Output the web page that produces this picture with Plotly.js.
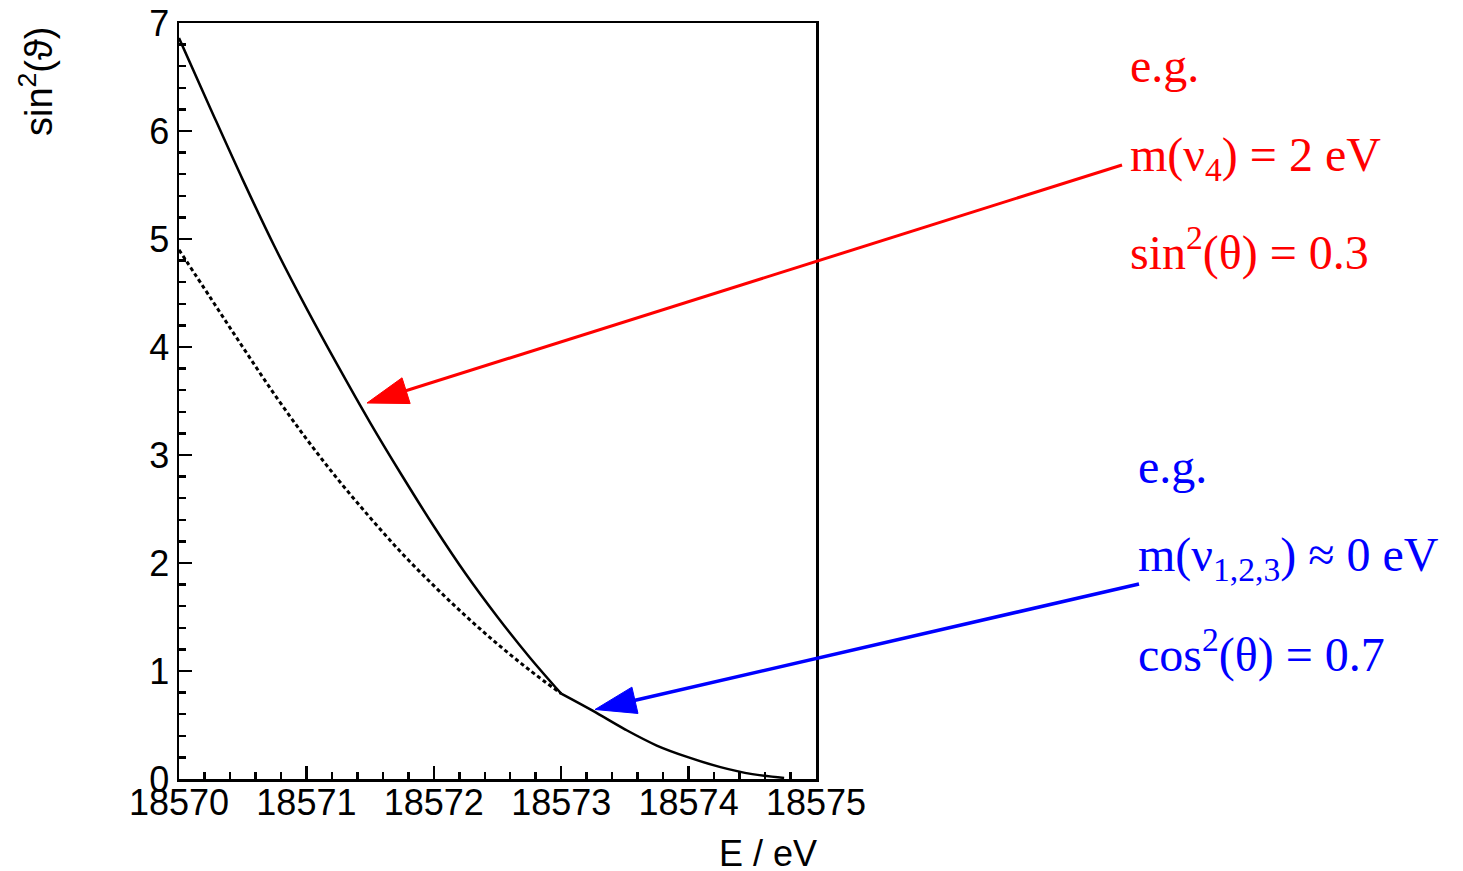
<!DOCTYPE html>
<html>
<head>
<meta charset="utf-8">
<script src="https://cdn.plot.ly/plotly-3.0.1.min.js"></script>
<style>
html,body{margin:0;padding:0;background:#fff;}
#chart{width:1463px;height:871px;}
</style>
</head>
<body>
<div id="chart"></div>
<script>
// ---- data ----
// solid curve (sum spectrum), branch below the kink at 18573 eV
const energySolidLow = [18570.0, 18570.25, 18570.5, 18570.75, 18571.0, 18571.25, 18571.5, 18571.75,
  18572.0, 18572.25, 18572.5, 18572.75, 18573.0];
const spectrumSolidLow = [6.86, 6.20, 5.55, 4.93, 4.36, 3.82, 3.30, 2.81,
  2.34, 1.90, 1.50, 1.13, 0.79];
// solid curve, branch above the kink
const energySolidHigh = [18573.0, 18573.25, 18573.5, 18573.75, 18574.0, 18574.25, 18574.5, 18574.75];
const spectrumSolidHigh = [0.79, 0.63, 0.46, 0.31, 0.20, 0.11, 0.045, 0.01];
// dotted curve (massless-only spectrum)
const energyDotted = [18570.0, 18570.25, 18570.5, 18570.75, 18571.0, 18571.25, 18571.5, 18571.75,
  18572.0, 18572.25, 18572.5, 18572.75, 18573.0];
const spectrumDotted = [4.90, 4.45, 4.00, 3.56, 3.15, 2.77, 2.42, 2.09,
  1.79, 1.51, 1.25, 1.01, 0.79];
const xTickVals = [18570, 18571, 18572, 18573, 18574, 18575];
const yTickVals = [0, 1, 2, 3, 4, 5, 6, 7];

// ---- geometry ----
const W = 1463, H = 871;
const M = {l: 179, r: 647, t: 23, b: 92};
const PW = W - M.l - M.r, PH = H - M.t - M.b;
const px2x = p => (p - M.l) / PW;
const px2y = p => (H - M.b - p) / PH;

function arrow(tail, tip, color, lw, headLen, headW) {
  const dx = tail[0] - tip[0], dy = tail[1] - tip[1];
  const L = Math.hypot(dx, dy), ux = dx / L, uy = dy / L;
  const bx = tip[0] + ux * headLen, by = tip[1] + uy * headLen;
  const nx = -uy, ny = ux;
  const c1 = [bx + nx * headW / 2, by + ny * headW / 2];
  const c2 = [bx - nx * headW / 2, by - ny * headW / 2];
  const pt = p => px2x(p[0]).toFixed(5) + ',' + px2y(p[1]).toFixed(5);
  return [
    {type: 'line', xref: 'paper', yref: 'paper',
     x0: px2x(tail[0]), y0: px2y(tail[1]), x1: px2x(bx + ux * -2), y1: px2y(by + uy * -2),
     line: {color: color, width: lw}},
    {type: 'path', xref: 'paper', yref: 'paper',
     path: 'M' + pt(tip) + 'L' + pt(c1) + 'L' + pt(c2) + 'Z',
     fillcolor: color, line: {color: color, width: 1}}
  ];
}

const shapes = [].concat(
  arrow([1122, 165], [367, 403], '#ff0000', 3, 41, 27),
  arrow([1139, 584], [595, 709.5], '#0000ff', 3.5, 41, 27)
);

const serif = 'Liberation Serif, Times New Roman, serif';
const sans = 'Liberation Sans, Arial, Helvetica, sans-serif';
function txt(text, xpx, ypx, color) {
  return {xref: 'paper', yref: 'paper', x: px2x(xpx), y: px2y(ypx), xanchor: 'left', yanchor: 'middle',
    showarrow: false, text: text, font: {family: serif, size: 48, color: color}};
}

const annotations = [
  txt('e.g.', 1128, 66, '#ff0000'),
  txt('m(ν<sub>4</sub>) = 2 eV', 1128, 158, '#ff0000'),
  txt('sin<sup>2</sup>(θ) = 0.3', 1128, 250, '#ff0000'),
  txt('e.g.', 1136, 466, '#0000ff'),
  txt('m(ν<sub>1,2,3</sub>) ≈ 0 eV', 1136, 558, '#0000ff'),
  txt('cos<sup>2</sup>(θ) = 0.7', 1136, 651, '#0000ff'),
  {xref: 'paper', yref: 'paper', x: px2x(36), y: px2y(82), xanchor: 'center', yanchor: 'middle',
   showarrow: false, textangle: -90, text: 'sin<sup>2</sup>(ϑ)', font: {family: sans, size: 38, color: '#000'}},
  {xref: 'paper', yref: 'paper', x: px2x(819), y: px2y(853), xanchor: 'right', yanchor: 'middle',
   showarrow: false, text: 'E / eV', font: {family: sans, size: 36, color: '#000'}}
];

const traces = [
  {x: energyDotted, y: spectrumDotted, type: 'scatter', mode: 'lines',
   line: {color: '#000', width: 3, dash: '4px,3px', shape: 'spline', smoothing: 1}, hoverinfo: 'skip'},
  {x: energySolidLow, y: spectrumSolidLow, type: 'scatter', mode: 'lines',
   line: {color: '#000', width: 2.5, shape: 'spline', smoothing: 1}, hoverinfo: 'skip'},
  {x: energySolidHigh, y: spectrumSolidHigh, type: 'scatter', mode: 'lines',
   line: {color: '#000', width: 2.5, shape: 'spline', smoothing: 1}, hoverinfo: 'skip'}
];

const layout = {
  width: W, height: H,
  margin: M,
  paper_bgcolor: '#fff', plot_bgcolor: '#fff',
  showlegend: false,
  font: {family: sans, color: '#000'},
  xaxis: {range: [18570, 18575], tickvals: xTickVals, tickformat: 'd',
    ticks: 'inside', ticklen: 13, tickwidth: 2.5, tickcolor: '#000', ticklabelstandoff: -10,
    minor: {dtick: 0.2, ticks: 'inside', ticklen: 7, tickwidth: 2.5, tickcolor: '#000', showgrid: false},
    showline: true, linecolor: '#000', linewidth: 2.5, mirror: true,
    showgrid: false, zeroline: false, tickfont: {family: sans, size: 36, color: '#000'}},
  yaxis: {range: [0, 7], tickvals: yTickVals,
    ticks: 'inside', ticklen: 13, tickwidth: 2.5, tickcolor: '#000',
    minor: {dtick: 0.2, ticks: 'inside', ticklen: 7, tickwidth: 2.5, tickcolor: '#000', showgrid: false},
    showline: true, linecolor: '#000', linewidth: 2.5, mirror: true,
    showgrid: false, zeroline: false, tickfont: {family: sans, size: 36, color: '#000'}},
  shapes: shapes,
  annotations: annotations
};

Plotly.newPlot('chart', traces, layout, {displayModeBar: false, staticPlot: true});
</script>
</body>
</html>
